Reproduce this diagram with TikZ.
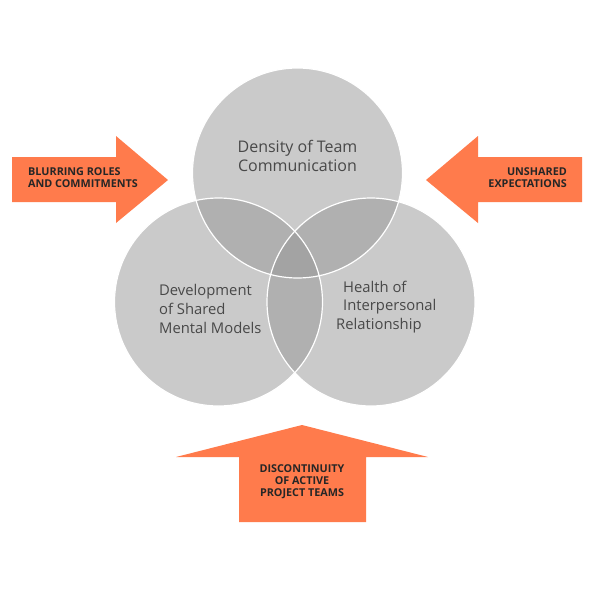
\documentclass[tikz,border=0pt]{standalone}
\usepackage{fontspec}
\setsansfont{Open Sans}
\usepackage{xcolor}
\usepackage{tikz}
\usetikzlibrary{positioning}
\definecolor{vennfill}{RGB}{151,151,151}
\definecolor{forceorange}{RGB}{255,123,76}
\definecolor{labelgray}{RGB}{72,72,72}
\tikzset{
  venncircle/.style={fill=vennfill, fill opacity=0.5},
  vennrim/.style={draw=white, line width=1.2pt},
  vennlabel/.style={
    font=\sffamily\fontsize{16}{19}\selectfont, text=labelgray, inner sep=0pt
  },
  vennlabelsmall/.style={
    vennlabel, font=\sffamily\fontsize{14.8}{18.6}\selectfont
  },
  forcearrow/.style={fill=forceorange},
  forcelabel/.style={
    font=\sffamily\bfseries\fontsize{10.8}{12.2}\selectfont, text=black!85, inner sep=0pt
  },
}

\begin{document}
\begin{tikzpicture}[x=1pt, y=-1pt]
  \useasboundingbox[fill=white] (0,0) rectangle (600,600);

  % === Venn circles ===
  \coordinate (topc) at (297.5,173);
  \coordinate (leftc) at (218.5,302);
  \coordinate (rightc) at (371,302);
  \fill[venncircle] (topc) circle[radius=105pt];
  \fill[venncircle] (leftc) circle[radius=104pt];
  \fill[venncircle] (rightc) circle[radius=104pt];
  \draw[vennrim] (topc) circle[radius=105pt];
  \draw[vennrim] (leftc) circle[radius=104pt];
  \draw[vennrim] (rightc) circle[radius=104pt];

  \node[vennlabel, align=center] (density) at (297.5,156)
    {Density of Team\\Communication};
  \node[vennlabelsmall, align=left, anchor=west] (shared) at (159,309)
    {Development\\of Shared\\Mental Models};
  \node[vennlabelsmall, align=left, anchor=west] (health) at (336,307)
    {\hspace{7pt}Health of\\\hspace{7pt}Interpersonal\\Relationship};

  % === Force arrows ===
  \fill[forcearrow] (12,157) -- (116,157) -- (116,136) -- (168,180)
    -- (116,223) -- (116,202) -- (12,202) -- cycle;
  \fill[forcearrow] (582,157) -- (478,157) -- (478,136) -- (426,180)
    -- (478,223) -- (478,202) -- (582,202) -- cycle;
  \fill[forcearrow] (302,425) -- (428,457) -- (366,457) -- (366,522)
    -- (239,522) -- (239,457) -- (176,457) -- cycle;

  \node[forcelabel, align=left, anchor=west] (blurring) at (28,178)
    {BLURRING ROLES\\AND COMMITMENTS};
  \node[forcelabel, align=right, anchor=east] (unshared) at (567,178)
    {UNSHARED\\EXPECTATIONS};
  \node[forcelabel, align=center] (discontinuity) at (302,482)
    {DISCONTINUITY\\OF ACTIVE\\PROJECT TEAMS};

\end{tikzpicture}
\end{document}
